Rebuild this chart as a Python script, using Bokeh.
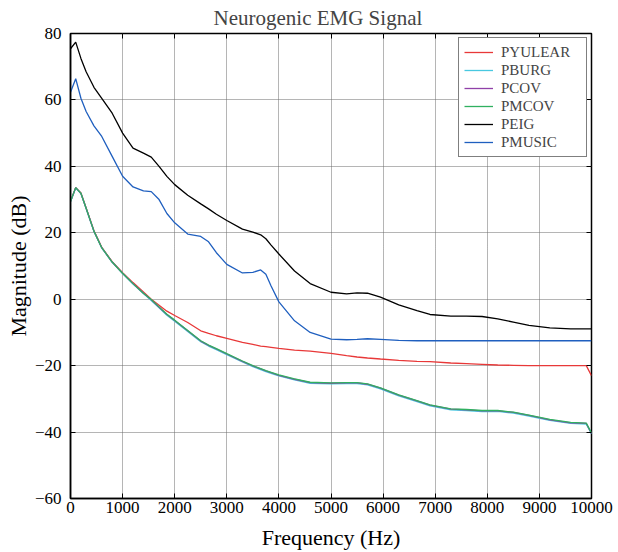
from bokeh.plotting import figure
from bokeh.models import LinearAxis, FixedTicker, Range1d, Legend, LegendItem
from bokeh.embed import file_html
from bokeh.resources import INLINE

freq = [0, 100, 200, 300, 450, 600, 800, 1000, 1200, 1400, 1550, 1700, 1850, 2000,
        2250, 2500, 2650, 2800, 3000, 3300, 3500, 3650, 3750, 3850, 4000, 4300, 4600,
        5000, 5300, 5500, 5700, 5950, 6300, 6650, 6900, 7300, 7600, 7900, 8200, 8500,
        8800, 9200, 9600, 9900, 10000]

pyulear = [29.5, 33.6, 32.0, 27.5, 20.6, 15.6, 11.3, 8.0, 5.0, 2.2, 0.0, -1.8, -3.6, -4.9,
           -7.0, -9.5, -10.3, -11.0, -11.8, -13.0, -13.6, -14.1, -14.3, -14.5, -14.8, -15.3, -15.6,
           -16.3, -17.0, -17.4, -17.7, -18.0, -18.4, -18.7, -18.8, -19.2, -19.4, -19.6, -19.8, -19.9,
           -20.0, -20.0, -20.0, -20.0, -23.0]

pburg = [29.3, 33.5, 31.8, 27.3, 20.4, 15.4, 11.1, 7.7, 4.6, 1.7, -0.4, -2.6, -4.8, -6.6,
         -9.7, -12.8, -14.1, -15.2, -16.7, -18.9, -20.3, -21.2, -21.8, -22.3, -23.1, -24.3, -25.3,
         -25.5, -25.4, -25.4, -25.8, -27.0, -29.1, -30.8, -32.1, -33.3, -33.5, -33.8, -33.8, -34.3,
         -35.2, -36.5, -37.4, -37.6, -40.5]

pcov = [29.4, 33.6, 31.9, 27.4, 20.5, 15.5, 11.2, 7.8, 4.7, 1.8, -0.2, -2.4, -4.6, -6.4,
        -9.5, -12.6, -13.9, -15.0, -16.5, -18.7, -20.1, -21.0, -21.6, -22.1, -22.9, -24.1, -25.1,
        -25.3, -25.2, -25.2, -25.6, -26.8, -28.9, -30.6, -31.9, -33.1, -33.3, -33.6, -33.6, -34.1,
        -35.0, -36.3, -37.2, -37.4, -40.4]

pmcov = [29.4, 33.6, 31.9, 27.4, 20.5, 15.5, 11.2, 7.8, 4.7, 1.8, -0.1, -2.3, -4.5, -6.3,
         -9.4, -12.5, -13.8, -14.9, -16.4, -18.6, -20.0, -20.9, -21.5, -22.0, -22.8, -24.0, -25.0,
         -25.2, -25.1, -25.1, -25.5, -26.7, -28.8, -30.5, -31.8, -33.0, -33.2, -33.5, -33.5, -34.0,
         -34.9, -36.2, -37.1, -37.3, -40.3]

peig = [75.4, 77.4, 72.5, 68.5, 63.8, 60.5, 56.0, 50.0, 45.5, 44.0, 42.8, 40.0, 37.0, 34.5,
        31.3, 28.7, 27.2, 25.6, 23.7, 21.1, 20.2, 19.4, 18.2, 16.3, 13.6, 8.5, 4.7,
        2.1, 1.6, 1.9, 1.8, 0.6, -1.7, -3.4, -4.6, -5.1, -5.1, -5.2, -5.9, -6.9,
        -7.9, -8.6, -8.9, -8.9, -8.9]

pmusic = [62.3, 66.4, 60.5, 56.5, 52.2, 49.0, 43.0, 37.0, 33.8, 32.6, 32.4, 30.0, 25.8, 23.0,
          19.6, 18.9, 17.3, 14.0, 10.5, 7.9, 8.1, 8.8, 7.5, 4.0, -0.8, -6.5, -10.0,
          -12.0, -12.2, -12.1, -11.9, -12.1, -12.4, -12.5, -12.5, -12.5, -12.5, -12.5, -12.5, -12.5,
          -12.5, -12.5, -12.5, -12.5, -12.5]

series_names = ["PYULEAR", "PBURG", "PCOV", "PMCOV", "PEIG", "PMUSIC"]
series_values = [pyulear, pburg, pcov, pmcov, peig, pmusic]
series_colors = ["#e83838", "#48c8e0", "#9040a8", "#30b060", "#000000", "#1f5fbf"]

x_ticks = [0, 1000, 2000, 3000, 4000, 5000, 6000, 7000, 8000, 9000, 10000]
y_ticks = [-60, -40, -20, 0, 20, 40, 60, 80]
y_tick_labels = {-60: "\u221260", -40: "\u221240", -20: "\u221220"}

title_text = "Neurogenic EMG Signal"
x_label = "Frequency (Hz)"
y_label = "Magnitude (dB)"

FONT = "Liberation Serif"

p = figure(width=618, height=552, output_backend="svg", toolbar_location=None,
           x_range=Range1d(0, 10000), y_range=Range1d(-60, 80),
           title=title_text,
           min_border_left=70, min_border_right=27, min_border_top=33, min_border_bottom=54)

p.title.text_font = FONT
p.title.text_font_size = "21px"
p.title.text_font_style = "normal"
p.title.align = "left"
p.title.offset = 143
p.title.standoff = 3
p.title.vertical_align = "top"

p.outline_line_color = "black"
p.outline_line_width = 1.5
p.background_fill_color = "white"
p.border_fill_color = "white"

for ax in p.xaxis + p.yaxis:
    ax.major_label_text_font = FONT
    ax.major_label_text_font_size = "17px"
    ax.axis_label_text_font = FONT
    ax.axis_label_text_font_size = "22px"
    ax.axis_label_text_font_style = "normal"
    ax.axis_label_text_color = "black"
    ax.major_tick_in = 5
    ax.major_tick_out = 0
    ax.minor_tick_in = 0
    ax.minor_tick_out = 0
    ax.axis_line_width = 1.5
    ax.axis_line_color = "black"
    ax.major_label_text_color = "black"

p.xaxis.ticker = FixedTicker(ticks=x_ticks)
p.yaxis.ticker = FixedTicker(ticks=y_ticks)
p.yaxis.major_label_overrides = y_tick_labels
p.xaxis.axis_label = x_label
p.yaxis.axis_label = y_label
p.xaxis.major_label_standoff = 3
p.yaxis.major_label_standoff = 9
p.xaxis.axis_label_standoff = 9
p.yaxis.axis_label_standoff = 1

top_ax = LinearAxis(ticker=FixedTicker(ticks=x_ticks), major_label_text_font_size="0px",
                    major_label_text_color=None,
                    major_tick_in=5, major_tick_out=0, minor_tick_in=0, minor_tick_out=0,
                    major_label_standoff=6, axis_line_color=None)
right_ax = LinearAxis(ticker=FixedTicker(ticks=y_ticks), major_label_text_font_size="0px",
                      major_label_text_color=None,
                      major_tick_in=5, major_tick_out=0, minor_tick_in=0, minor_tick_out=0,
                      major_label_standoff=0, axis_line_color=None)
p.add_layout(top_ax, "above")
p.add_layout(right_ax, "right")

p.xgrid.ticker = FixedTicker(ticks=x_ticks)
p.ygrid.ticker = FixedTicker(ticks=y_ticks)
for g in (p.xgrid, p.ygrid):
    g.grid_line_color = "#6a6a6a"
    g.grid_line_dash = "1 1"
    g.grid_line_width = 1

items = []
for name, vals, col in zip(series_names, series_values, series_colors):
    r = p.line(freq, vals, line_color=col, line_width=1.3)
    items.append(LegendItem(label=name, renderers=[r]))

legend = Legend(items=items, location="top_right")
legend.label_text_font = FONT
legend.label_text_font_size = "15px"
legend.border_line_color = "black"
legend.border_line_width = 1
legend.background_fill_alpha = 1
legend.margin = 4
legend.padding = 5
legend.spacing = 0
legend.glyph_height = 18
legend.label_height = 18
legend.glyph_width = 29
legend.label_standoff = 8
legend.label_width = 80
p.add_layout(legend)

open("out.html", "w").write(file_html(p, INLINE))
